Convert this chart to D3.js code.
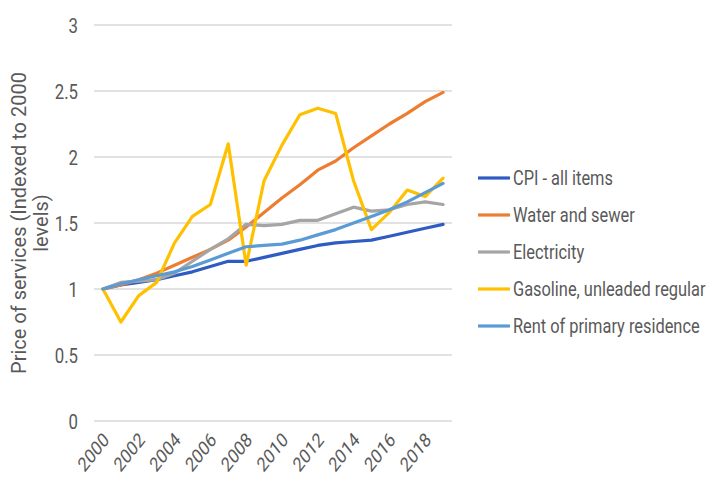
<!DOCTYPE html>
<html>
<head>
<meta charset="utf-8">
<script src="https://cdn.jsdelivr.net/npm/d3@7"></script>
<style>
  html, body { margin: 0; padding: 0; background: #fff; }
  svg { display: block; }
  text { font-family: Roboto, "Noto Sans", sans-serif; fill: #595959; }
</style>
</head>
<body>
<svg id="chart" width="709" height="482"></svg>
<script>
// Years on the category axis
const years = d3.range(2000, 2020);
// Axis tick values
const yTicks = [0, 0.5, 1, 1.5, 2, 2.5, 3];
const xTickYears = [2000, 2002, 2004, 2006, 2008, 2010, 2012, 2014, 2016, 2018];

// Price indices, 2000 = 1
const cpi = [1.00, 1.03, 1.05, 1.07, 1.10, 1.13, 1.17, 1.21, 1.21, 1.24, 1.27, 1.30, 1.33, 1.35, 1.36, 1.37, 1.40, 1.43, 1.46, 1.49];
const water = [1.00, 1.03, 1.07, 1.12, 1.18, 1.24, 1.30, 1.37, 1.47, 1.58, 1.69, 1.79, 1.90, 1.97, 2.07, 2.16, 2.25, 2.33, 2.42, 2.49];
const electricity = [1.00, 1.05, 1.06, 1.07, 1.12, 1.21, 1.30, 1.38, 1.49, 1.48, 1.49, 1.52, 1.52, 1.57, 1.62, 1.59, 1.60, 1.64, 1.66, 1.64];
const gasoline = [1.00, 0.75, 0.95, 1.05, 1.35, 1.55, 1.64, 2.10, 1.18, 1.82, 2.09, 2.32, 2.37, 2.33, 1.82, 1.45, 1.58, 1.75, 1.70, 1.84];
const rent = [1.00, 1.04, 1.07, 1.10, 1.13, 1.17, 1.22, 1.27, 1.32, 1.33, 1.34, 1.37, 1.41, 1.45, 1.50, 1.55, 1.60, 1.66, 1.73, 1.80];

const seriesNames = ["CPI - all items", "Water and sewer", "Electricity", "Gasoline, unleaded regular", "Rent of primary residence"];
const seriesValues = [cpi, water, electricity, gasoline, rent];
const seriesColors = ["#2f5cc2", "#ed7d31", "#a5a5a5", "#ffc000", "#5b9bd5"];

const svg = d3.select("#chart");
const plot = { left: 94, right: 452, top: 25, bottom: 421 };
const squeeze = 0.8; // narrow lettering

const x = d3.scalePoint().domain(years).range([plot.left, plot.right]).padding(0.5);
const y = d3.scaleLinear().domain([0, 3]).range([plot.bottom, plot.top]);

// Horizontal gridlines
svg.append("g")
  .selectAll("line")
  .data(yTicks)
  .join("line")
  .attr("x1", plot.left).attr("x2", plot.right)
  .attr("y1", d => y(d)).attr("y2", d => y(d))
  .attr("stroke", "#d9d9d9").attr("stroke-width", 1.5);

// Y tick labels
svg.append("g")
  .selectAll("text")
  .data(yTicks)
  .join("text")
  .attr("transform", d => `translate(78,${y(d)}) scale(${squeeze},1)`)
  .attr("text-anchor", "end")
  .attr("dy", "0.36em")
  .style("font-size", "21px")
  .text(d => d3.format("")(d));

// X tick labels, rotated
svg.append("g")
  .selectAll("text")
  .data(xTickYears)
  .join("text")
  .attr("transform", d => `translate(${x(d) + 3},${436}) scale(${squeeze},1) rotate(-45)`)
  .attr("text-anchor", "end")
  .attr("dy", "0.36em")
  .style("font-size", "20px")
  .text(d => d);

// Y axis title
const yTitle = svg.append("text")
  .attr("transform", `translate(26,${(plot.top + plot.bottom) / 2}) rotate(-90)`)
  .attr("text-anchor", "middle")
  .style("font-size", "20px");
yTitle.append("tspan").attr("x", 0).attr("y", 0).text("Price of services (Indexed to 2000");
yTitle.append("tspan").attr("x", 0).attr("y", 22).text("levels)");

// Series lines
const line = d3.line()
  .x((d, i) => x(years[i]))
  .y(d => y(d));

svg.append("g")
  .selectAll("path")
  .data(seriesValues)
  .join("path")
  .attr("d", d => line(d))
  .attr("fill", "none")
  .attr("stroke", (d, i) => seriesColors[i])
  .attr("stroke-width", 3.2)
  .attr("stroke-linejoin", "round")
  .attr("stroke-linecap", "round");

// Legend
const legend = svg.append("g")
  .selectAll("g")
  .data(seriesNames)
  .join("g")
  .attr("transform", (d, i) => `translate(478,${178 + i * 37})`);
legend.append("line")
  .attr("x1", 0).attr("x2", 32)
  .attr("stroke", (d, i) => seriesColors[i])
  .attr("stroke-width", 3.2);
legend.append("text")
  .attr("transform", `translate(35,0) scale(${squeeze},1)`)
  .attr("dy", "0.36em")
  .style("font-size", "20.5px")
  .text(d => d);
</script>
</body>
</html>
